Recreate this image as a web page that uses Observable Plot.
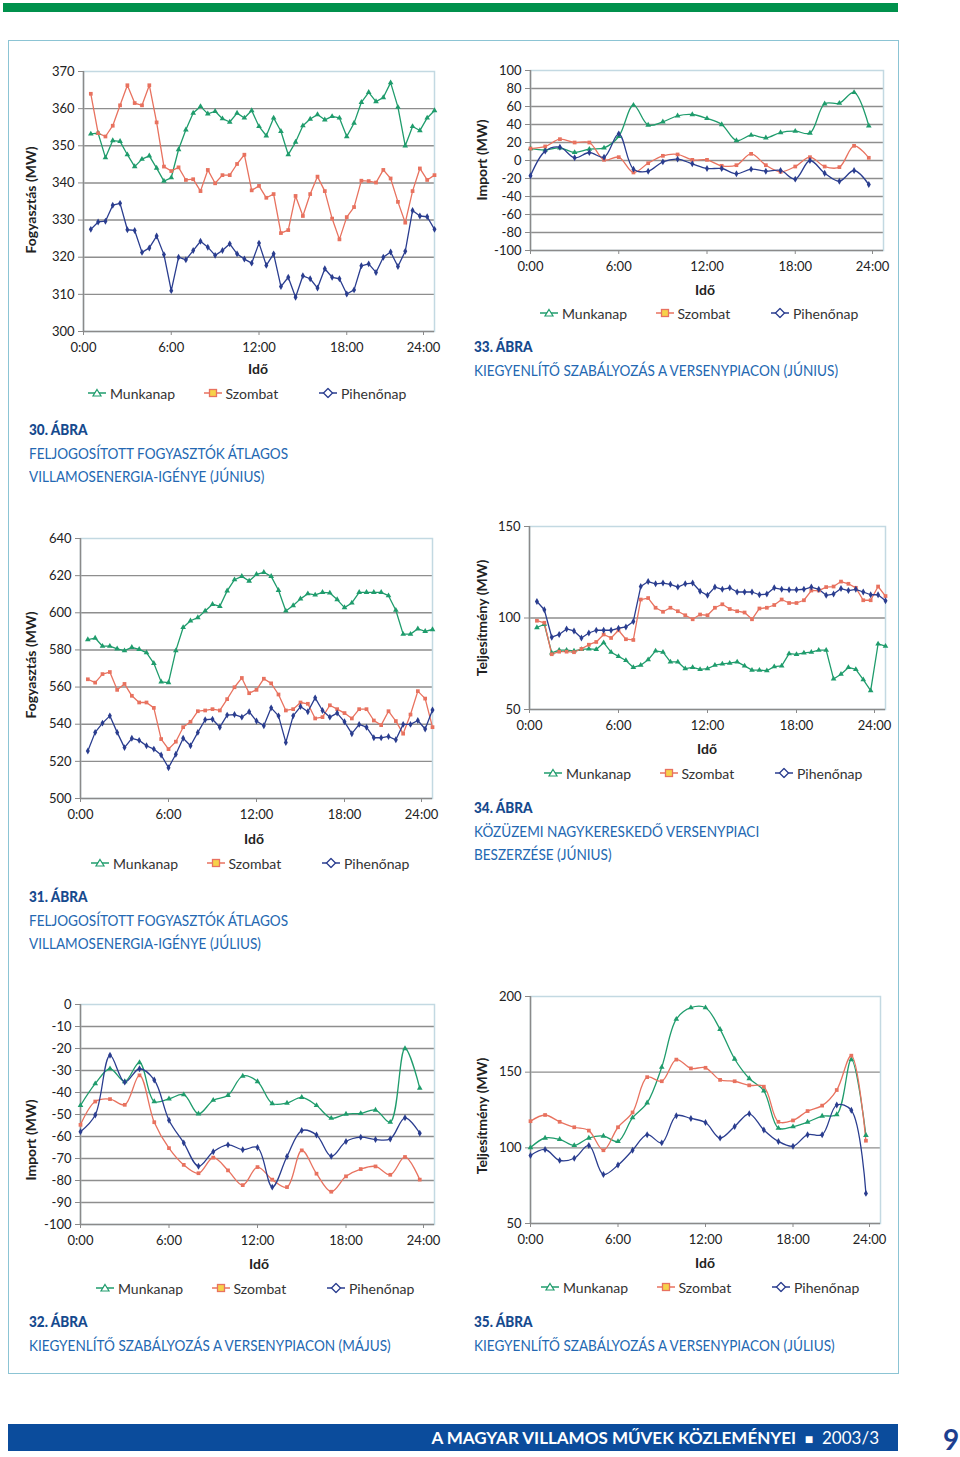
<!DOCTYPE html>
<html>
<head>
<meta charset="utf-8">
<script src="https://cdn.jsdelivr.net/npm/d3@7"></script>
<script src="https://cdn.jsdelivr.net/npm/@observablehq/plot@0.6"></script>
<style>
  body { margin:0; width:960px; height:1457px; position:relative; background:#fff; font-family: Lato, "Open Sans", sans-serif; overflow:hidden; }
  .abs { position:absolute; }
  .ytitle { position:absolute; transform: translate(-50%,-50%) rotate(-90deg); white-space:nowrap; font-weight:700; font-size:14px; color:#222; }
  .xtitle { position:absolute; transform: translate(-50%,-50%); font-weight:700; font-size:14px; color:#222; }
  .legitem { position:absolute; transform: translateY(-50%); display:flex; align-items:center; font-size:14px; color:#333; white-space:nowrap; }
  .legitem svg { margin-right:4px; }
  .caption { position:absolute; line-height:23.5px; font-size:15.5px; color:#2368b2; white-space:nowrap; transform-origin: left top; transform: scaleX(0.875); }
  .caption b { color:#164a8e; font-weight:900; }
  .chart { position:absolute; }
</style>
</head>
<body>
<div class="abs" style="left:3px;top:3px;width:895px;height:9px;background:#00914c"></div>
<div class="abs" style="left:8px;top:40px;width:889px;height:1332px;border:1px solid #8cc4d4"></div>
<div class="abs" style="left:8px;top:1424px;width:890px;height:27px;background:#0b4c9c"></div>
<div class="abs" style="left:8px;top:1424px;width:871px;height:27px;line-height:27px;text-align:right;color:#fff;font-size:17px;white-space:nowrap"><span style="font-weight:700">A MAGYAR VILLAMOS MŰVEK KÖZLEMÉNYEI</span>&nbsp;&nbsp;<span style="font-size:14px">■</span>&nbsp;&nbsp;2003/3</div>
<div class="abs" style="left:943px;top:1424px;line-height:30px;font-size:28px;font-weight:700;color:#1d3f8f">9</div>
<div id="root"></div>
<script>
// ---- categories (time of day, hours) ----
const halfHours = [0.5,1,1.5,2,2.5,3,3.5,4,4.5,5,5.5,6,6.5,7,7.5,8,8.5,9,9.5,10,10.5,11,11.5,12,12.5,13,13.5,14,14.5,15,15.5,16,16.5,17,17.5,18,18.5,19,19.5,20,20.5,21,21.5,22,22.5,23,23.5,24];
const fullHours = [0,1,2,3,4,5,6,7,8,9,10,11,12,13,14,15,16,17,18,19,20,21,22,23];
const xTickValues = [0,6,12,18];
const xLastTick = [24];
const seriesNames = ["Munkanap","Szombat","Pihenőnap"];

// ---- 30. ábra (MW) ----
const munkanap30 = [353.2,353.4,346.8,351.4,351.2,347.6,344.4,346.4,347.3,344,340.5,341.4,349,354.3,358.8,360.6,358.6,359.3,357.3,356.4,358.8,357.5,359.5,355.2,352.7,357.5,353.9,347.6,351,355.4,357.2,358.4,357,357.9,357.5,352.5,356.1,361.7,364.4,361.9,363,367,360.4,350,355.2,354.1,357.5,359.5];
const szombat30 = [364,353.4,352.5,355.4,360.9,366.3,361.5,360.9,366.3,356.3,344.4,343.2,344.2,340.8,341,337.8,343.5,339.9,342.1,342.1,345.1,347.6,338,339.2,336,337,326.5,327.3,336.5,331.1,337,341.7,337.8,330.4,324.8,330.8,333.5,340.6,340.5,340.1,343.5,341.2,334.9,329.3,337.8,343.9,340.8,342.1];
const pihenonap30 = [327.5,329.5,329.7,334,334.5,327.4,327.2,321.3,322.5,325.7,320.7,311,320,319.3,321.8,324.3,322.7,320.5,321.8,323.6,320.9,319.5,318.4,323.8,317.8,320.9,312.1,314.6,309.2,315,314.2,311.7,316.9,314.6,314.2,310.1,311.2,317.7,318.2,315.9,320,321.4,317.5,321.6,332.6,331.1,330.9,327.5];
const yTicks30 = [300,310,320,330,340,350,360,370];

// ---- 33. ábra (MW) ----
const munkanap33 = [13.3,11.9,14,8.9,12.6,14,26.7,61.5,39.3,43,49.6,51.1,46.7,40,22.2,28.1,25.2,31.1,32.6,30.4,63,63.7,75.6,38.5];
const szombat33 = [13.3,15.6,23.7,20,20,0.7,3.7,-13.3,-3,5.2,6.7,0.7,0.7,-5.9,-5.2,7.4,-5.2,-12.6,-6.7,3.7,-6.7,-7.4,16.3,3];
const pihenonap33 = [-17,10.4,14.8,3,8.9,3.7,29.6,-9.6,-11.9,-1.5,1.5,-3.7,-8.9,-8.9,-14.8,-9.6,-11.9,-11.1,-20.7,0,-14.1,-23,-11.1,-26.7];
const yTicks33 = [-100,-80,-60,-40,-20,0,20,40,60,80,100];

// ---- 31. ábra (MW) ----
const munkanap31 = [585.6,586.4,582,582,580.6,579.6,581.4,580.3,578.5,572.8,562.8,562.4,579.6,592.1,595.7,597.4,601,604.6,603.5,611.8,617.8,619.6,617.1,620.7,621.8,619.6,612.1,601,603.9,607.5,610.3,609.6,611,610.7,607.1,602.8,605.3,611,611,611,611,609.2,601.4,588.5,588.5,591.4,590,591];
const szombat31 = [564.2,562.4,567,568.1,558.5,561.7,555.3,551.7,551.7,548.8,532,526.6,530.6,538.4,541.3,547,547.4,548.1,547.4,553.5,559.9,564.9,556.7,558.5,564.5,562,556,547.4,548.1,551.7,551,543.1,543.8,550.2,548.1,546,543.1,548.1,548.1,542,539.5,547,541.7,534.9,545.2,557.8,553.8,538.4];
const pihenonap31 = [525.6,535.6,540.6,544.5,535.6,527.4,532.4,531.3,528.4,526.6,523.4,516.6,523.8,532.4,528.4,535.6,542.4,542.7,538.4,544.9,545.2,543.8,546.7,541.7,539.2,548.8,544.5,530.2,544.5,549.5,546.7,554.2,547.4,543.8,546,541.3,534.9,539.9,538.4,532.7,532.7,533.4,531.6,539.9,539.9,542,537.4,547.7];
const yTicks31 = [500,520,540,560,580,600,620,640];

// ---- 34. ábra (MW) ----
const munkanap34 = [94.8,96.6,80.9,82.4,82.4,82,82.8,83.1,82.8,86.5,81.3,79,76.8,73,74.2,77.2,82,81.3,76,76,72.3,73,71.9,72.3,74.2,74.9,75.3,76,73.8,71.5,71.5,71.2,73.4,73.8,80.5,80.1,80.9,81.3,82.4,82.4,66.7,69.3,73,71.9,66.3,60.3,85.8,84.6];
const szombat34 = [98.5,97.4,80.2,81.6,81.6,81.3,83.1,85.4,86.9,91,89.1,93.3,88.4,88,110.1,110.9,105.6,103.4,105.6,103.7,101.5,99.3,101.9,101.5,105.6,107.5,104.9,103.7,103,99.3,105.2,105.6,107.1,110.1,108.2,108.2,109.7,115,115,116.9,117.2,119.9,118.7,116.5,109.7,109.7,117.2,112];
const pihenonap34 = [109,104.5,89.5,91,94,92.9,89.1,91.8,93.3,93.3,93.3,94.4,95.1,98.1,117.2,119.9,118.7,119.1,118.4,116.9,118.7,119.1,114.6,112.4,116.9,115.7,116.5,114.2,114.2,114.2,112.7,113.1,116.5,115.7,115.4,115.4,115.7,116.9,115.7,112.4,113.1,116.1,115,115.7,114.2,112.7,112.7,109.4];
const yTicks34 = [50,100,150];

// ---- 32. ábra (MW) ----
const munkanap32 = [-45.9,-36,-29.2,-35,-26.4,-44.1,-42.9,-41,-49.7,-43.5,-41.3,-32.5,-35,-45,-44.8,-42.2,-45.9,-51.7,-49.8,-49.5,-48,-53.5,-20,-38];
const szombat32 = [-54.7,-44.1,-43,-45.6,-32.2,-53.5,-65.3,-72.9,-76.7,-69.6,-75.4,-82.1,-73.9,-79.6,-83,-66.3,-76.9,-85.1,-78.1,-74.8,-73.6,-77.4,-69.3,-79.6];
const pihenonap32 = [-57.8,-50.2,-23.1,-35.3,-29.2,-34.3,-52.6,-62.9,-73.5,-66.9,-63.8,-66,-65,-83,-69.1,-57.3,-59.3,-69,-62.3,-60.3,-61.4,-61.1,-51.5,-58.5];
const yTicks32 = [-100,-90,-80,-70,-60,-50,-40,-30,-20,-10,0];

// ---- 35. ábra (MW) ----
const munkanap35 = [100.2,106.5,105.6,101.6,106.5,107.8,104.2,119.9,129.7,153.3,185,192.6,192.6,178.3,158.7,145.8,137.7,113,114,117,121,122,158.3,108.3];
const szombat35 = [117.6,121.7,117.2,113.6,111.4,98.4,113.6,123.4,146.7,144,158.3,152.5,152.9,144.9,144,141.3,140.4,117.2,118.1,124.3,127.9,138.2,160.9,104.7];
const pihenonap35 = [94.9,98.9,91.7,93.1,101.6,82.4,88.6,98.4,108.7,103.3,121.2,119.4,116.7,106.5,114.1,122.5,111.8,104.2,101.1,108.7,108.7,128.3,124.8,69.9];
const yTicks35 = [50,100,150,200];

// ---- styles ----
const colors = {Munkanap:"#1f9c6c", Szombat:"#e8725f", "Pihenőnap":"#2a3d8f"};
const symbols = {Munkanap:"triangle", Szombat:"square", "Pihenőnap":"diamond"};

const charts = [
  {L:83, T:71, W:351, H:260, times:halfHours, data:[munkanap30,szombat30,pihenonap30], ticks:yTicks30, grid:yTicks30.slice(1,-1), curve:"linear",
   ytitle:"Fogyasztás (MW)", yt:[30,200], xt:[258,368], leg:[97,393], cap:[29,418], capLines:["<b>30. ÁBRA</b>","FELJOGOSÍTOTT FOGYASZTÓK ÁTLAGOS","VILLAMOSENERGIA-IGÉNYE (JÚNIUS)"]},
  {L:530, T:70, W:353, H:180, times:fullHours, data:[munkanap33,szombat33,pihenonap33], ticks:yTicks33, grid:yTicks33.slice(1,-1), curve:"catmull-rom",
   ytitle:"Import (MW)", yt:[481,160], xt:[705,289], leg:[549,313], cap:[474,335], capLines:["<b>33. ÁBRA</b>","KIEGYENLÍTŐ SZABÁLYOZÁS A VERSENYPIACON (JÚNIUS)"]},
  {L:80, T:538, W:352, H:260, times:halfHours, data:[munkanap31,szombat31,pihenonap31], ticks:yTicks31, grid:yTicks31.slice(1,-1), curve:"linear",
   ytitle:"Fogyasztás (MW)", yt:[30,665], xt:[254,838], leg:[100,863], cap:[29,885], capLines:["<b>31. ÁBRA</b>","FELJOGOSÍTOTT FOGYASZTÓK ÁTLAGOS","VILLAMOSENERGIA-IGÉNYE (JÚLIUS)"]},
  {L:529, T:526, W:356, H:183, times:halfHours, data:[munkanap34,szombat34,pihenonap34], ticks:yTicks34, grid:[100], curve:"linear",
   ytitle:"Teljesítmény (MW)", yt:[481,618], xt:[707,748], leg:[553,773], cap:[474,796], capLines:["<b>34. ÁBRA</b>","KÖZÜZEMI NAGYKERESKEDŐ VERSENYPIACI","BESZERZÉSE (JÚNIUS)"]},
  {L:80, T:1004, W:354, H:220, times:fullHours, data:[munkanap32,szombat32,pihenonap32], ticks:yTicks32, grid:yTicks32.slice(1,-1), curve:"catmull-rom",
   ytitle:"Import (MW)", yt:[30,1140], xt:[259,1263], leg:[105,1288], cap:[29,1310], capLines:["<b>32. ÁBRA</b>","KIEGYENLÍTŐ SZABÁLYOZÁS A VERSENYPIACON (MÁJUS)"]},
  {L:530, T:996, W:350, H:227, times:fullHours, data:[munkanap35,szombat35,pihenonap35], ticks:yTicks35, grid:[100,150], curve:"catmull-rom",
   ytitle:"Teljesítmény (MW)", yt:[481,1116], xt:[705,1262], leg:[550,1287], cap:[474,1310], capLines:["<b>35. ÁBRA</b>","KIEGYENLÍTŐ SZABÁLYOZÁS A VERSENYPIACON (JÚLIUS)"]}
];

const ML = 52, MR = 26, MT = 10, MB = 28;
const root = document.getElementById("root");

function legendMarker(name) {
  const c = colors[name];
  let m;
  if (name === "Munkanap") m = `<polygon points="9,2 13,8.5 5,8.5" fill="#fff" stroke="${c}" stroke-width="1.2"/>`;
  else if (name === "Szombat") m = `<rect x="5.5" y="2" width="7" height="7" fill="#f6d24a" stroke="${c}" stroke-width="1.3"/>`;
  else m = `<polygon points="9,1 13.5,5.5 9,10 4.5,5.5" fill="#fff" stroke="${c}" stroke-width="1.3"/>`;
  return `<svg width="18" height="11" viewBox="0 0 18 11"><line x1="0" y1="5.5" x2="18" y2="5.5" stroke="${c}" stroke-width="1.3"/>${m}</svg>`;
}

charts.forEach(cfg => {
  const yDomain = [cfg.ticks[0], cfg.ticks[cfg.ticks.length-1]];
  const marks = [
    Plot.ruleY(cfg.grid, {stroke:"#8e8e8e", strokeWidth:1.4}),
    Plot.frame({stroke:"#c3d9e2", strokeWidth:1.5}),
    Plot.ruleX([0], {stroke:"#8a8a8a", strokeWidth:1.5}),
    Plot.ruleY([yDomain[0]], {stroke:"#8a8a8a", strokeWidth:1.5}),
    Plot.axisY(cfg.ticks, {tickSize:5, tickPadding:4, stroke:"#8a8a8a", tickFormat: d => String(d), label:null, fontSize:13}),
    Plot.axisX(xTickValues, {tickSize:4, tickPadding:7, stroke:"#8a8a8a", tickFormat: d => d + ":00", label:null, fontSize:13}),
    Plot.axisX(xLastTick, {tickSize:4, tickPadding:7, stroke:"#8a8a8a", tickFormat: d => d + ":00", label:null, fontSize:13, dx:-11})
  ];
  cfg.data.forEach((vals, si) => {
    const name = seriesNames[si];
    marks.push(Plot.line(vals, {x:(d,i)=>cfg.times[i], y:d=>d, stroke:colors[name], strokeWidth:1.3, curve:cfg.curve}));
  });
  cfg.data.forEach((vals, si) => {
    const name = seriesNames[si];
    marks.push(Plot.dot(vals, {x:(d,i)=>cfg.times[i], y:d=>d, fill:colors[name], symbol:symbols[name], r:2.1}));
  });
  const svg = Plot.plot({
    width: cfg.W + ML + MR, height: cfg.H + MT + MB,
    marginLeft: ML, marginRight: MR, marginTop: MT, marginBottom: MB,
    style: {fontFamily:"Lato, sans-serif", fontSize:"13px", color:"#222", background:"transparent", overflow:"visible"},
    x: {domain:[0,24]},
    y: {domain:yDomain},
    marks
  });
  const wrap = document.createElement("div");
  wrap.className = "chart";
  wrap.style.left = (cfg.L - ML) + "px";
  wrap.style.top = (cfg.T - MT) + "px";
  wrap.appendChild(svg);
  root.appendChild(wrap);

  const yt = document.createElement("div");
  yt.className = "ytitle"; yt.textContent = cfg.ytitle;
  yt.style.left = cfg.yt[0] + "px"; yt.style.top = cfg.yt[1] + "px";
  root.appendChild(yt);

  const xt = document.createElement("div");
  xt.className = "xtitle"; xt.textContent = "Idő";
  xt.style.left = cfg.xt[0] + "px"; xt.style.top = cfg.xt[1] + "px";
  root.appendChild(xt);

  seriesNames.forEach((name, i) => {
    const it = document.createElement("div");
    it.className = "legitem";
    it.innerHTML = legendMarker(name) + name;
    it.style.left = (cfg.leg[0] - 9 + i * 115.5) + "px";
    it.style.top = cfg.leg[1] + "px";
    root.appendChild(it);
  });

  const cap = document.createElement("div");
  cap.className = "caption";
  cap.innerHTML = cfg.capLines.join("<br>");
  cap.style.left = cfg.cap[0] + "px"; cap.style.top = cfg.cap[1] + "px";
  root.appendChild(cap);
});
</script>
</body>
</html>
